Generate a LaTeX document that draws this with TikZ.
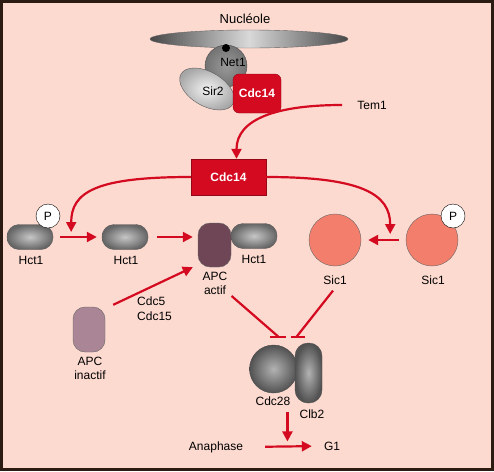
\documentclass[tikz,border=0pt]{standalone}
\usepackage{fontspec}
\setmainfont{Liberation Sans}
\usepackage{tikz}
\usetikzlibrary{positioning,shapes,arrows.meta,calc}
\definecolor{mitBg}{HTML}{FDDAD0}
\definecolor{mitRed}{HTML}{D30A20}
\definecolor{mitFrame}{HTML}{2B1B12}
\definecolor{apcOn}{HTML}{6E4656}
\definecolor{apcOff}{HTML}{A98595}
\definecolor{sicFill}{HTML}{F47E6C}

\begin{document}
\begin{tikzpicture}[
    x=1pt, y=-1pt,
    lbl/.style={font=\fontsize{12}{14}\selectfont, inner sep=1pt},
    pill/.style={draw=black!65, rounded corners=12pt, minimum width=46pt, minimum height=25pt, inner sep=0pt, shading=radial, inner color=black!22, outer color=black!60},
    phos/.style={circle, draw=black, fill=white, minimum size=24pt, inner sep=0pt, font=\fontsize{12}{14}\selectfont},
    sic/.style={circle, draw=black!60, fill=sicFill, minimum size=52pt, inner sep=0pt},
    apc/.style={draw=black!60, rounded corners=12pt, minimum width=33pt, minimum height=44pt, inner sep=0pt},
    cdcbox/.style={draw=mitRed!70!black, fill=mitRed, text=white, font=\fontsize{12}{14}\selectfont\bfseries, inner sep=0pt},
    arr/.style={-{Triangle[length=10pt,width=10pt]}, line width=2.2pt, draw=mitRed},
    inh/.style={line width=2.2pt, draw=mitRed},
]

% background and frame
\useasboundingbox (0,0) rectangle (494,471);
\fill[mitBg] (0,0) rectangle (494,471);
\draw[mitFrame, line width=3pt] (1.5,1.5) rectangle (492.5,469.5);

% ===== TOP: Nucleole complex =====
\node[lbl, font=\fontsize{13}{15}\selectfont] (nuclLbl) at (245,19) {Nucléole};
\node[ellipse, draw=black!60, minimum width=198pt, minimum height=18pt, inner sep=0pt,
    left color=black!72, right color=black!72, middle color=black!15] (nucl) at (249,39) {};
\node[circle, draw=black!70, minimum size=42pt, inner sep=0pt, shading=radial, inner color=black!40, outer color=black!55] (net) at (226,66) {};
\node[circle, fill=black, minimum size=8pt, inner sep=0pt] (dot) at (226,48) {};
\node[ellipse, draw=black!65, minimum width=60pt, minimum height=34pt, inner sep=0pt, rotate=-30,
    shading=radial, inner color=black!5, outer color=black!35] (sir) at (207,89) {};
\node[lbl] (netLbl) at (233,62) {Net1};
\node[lbl] (sirLbl) at (213,91) {Sir2};
\node[cdcbox, rounded corners=6pt, minimum width=48pt, minimum height=39pt] (cdcSmall) at (257,93.5) {Cdc14};

% Tem1 releases Cdc14
\node[lbl] (tem) at (372,105) {Tem1};
\node[cdcbox, minimum width=75pt, minimum height=36pt] (cdcBig) at (228.5,177) {Cdc14};
\draw[arr] ([xshift=-14pt]tem.west) .. controls +(-65,0) and +(0,-40) .. ([xshift=8pt]cdcBig.north);

% ===== MIDDLE ROW: Hct1 / APC =====
\node[pill] (hctP) at (30,237) {};
\node[phos] (pH) at (48,216) {P};
\node[pill] (hct) at (125,237) {};
\node[pill] (hctA) at (254,236) {};
\node[apc, fill=apcOn] (apcA) at (214.5,245) {};
\node[apc, fill=apcOff, minimum width=32pt, minimum height=45pt] (apcI) at (89,329.5) {};

% ===== MIDDLE ROW: Sic1 =====
\node[sic] (sic) at (335,240) {};
\node[sic] (sicP) at (432,240) {};
\node[phos] (pS) at (453,216) {P};

% labels
\foreach \nm/\px/\py/\txt in {lh1/31/260/Hct1, lh2/126/260/Hct1, lh3/254/259/Hct1, ls1/335/280/Sic1, ls2/433/280/Sic1}
    \node[lbl] (\nm) at (\px,\py) {\txt};
\node[lbl, align=center] (apcAlbl) at (215,283.5) {APC\\actif};
\node[lbl, align=center] (apcIlbl) at (90,368.5) {APC\\inactif};
\node[lbl, align=left, anchor=west, font=\fontsize{12}{15}\selectfont] (kin) at (136,308.5) {Cdc5\\Cdc15};

% Cdc14 acts on both sides
\draw[arr] (cdcBig.west) .. controls +(-95,0) and +(0,-40) .. ([yshift=5pt]$(hctP.east)!0.37!(hct.west)$);
\draw[arr] (cdcBig.east) .. controls +(95,0) and +(0,-40) .. ([yshift=6pt]$(sic.east)!0.65!(sicP.west)$);

% activation steps
\draw[arr, shorten <=7pt, shorten >=5pt] (hctP) -- (hct);
\draw[arr, shorten <=9pt, shorten >=5pt] (hct.east) -- (hct.east -| apcA.west);
\draw[arr, shorten <=7pt, shorten >=7pt] (sicP) -- (sic);
\draw[arr] ([xshift=8pt,yshift=2pt]apcI.north east) -- ([xshift=-5pt]apcA.south west);

% ===== BOTTOM: Cdc28/Clb2 =====
\node[circle, draw=black!70, minimum size=48pt, inner sep=0pt, shading=radial, inner color=black!30, outer color=black!68] (cdc28) at (273.5,369) {};
\node[draw=black!70, rounded corners=13pt, minimum width=27pt, minimum height=60pt, inner sep=0pt,
    shading=radial, inner color=black!30, outer color=black!68] (clb) at (308.5,373) {};
\node[lbl] (cdc28Lbl) at (273,401) {Cdc28};
\node[lbl] (clbLbl) at (312,414) {Clb2};

% inhibition of Cdc28/Clb2
\coordinate (barL) at ([xshift=5pt,yshift=8pt]cdc28.north);
\coordinate (barR) at ([xshift=23pt,yshift=8pt]cdc28.north);
\draw[inh] ([xshift=3pt]apcAlbl.south east) -- (barL);
\draw[inh] ([xshift=-2pt,yshift=-5pt]ls1.south) -- (barR);
\draw[inh] ([xshift=-9pt]barL) -- ([xshift=7pt]barL);
\draw[inh] ([xshift=-6pt]barR) -- ([xshift=8pt]barR);

% exit to G1
\node[lbl] (ana) at (216,447) {Anaphase};
\node[lbl] (gOne) at (332,446) {G1};
\draw[arr, shorten <=21pt, shorten >=11pt] (ana.east) -- (gOne.west);
\coordinate (downEnd) at ([yshift=5pt]$(ana.east)!0.55!(gOne.west)$);
\draw[arr] ([yshift=29pt]downEnd) -- (downEnd);

\end{tikzpicture}
\end{document}
